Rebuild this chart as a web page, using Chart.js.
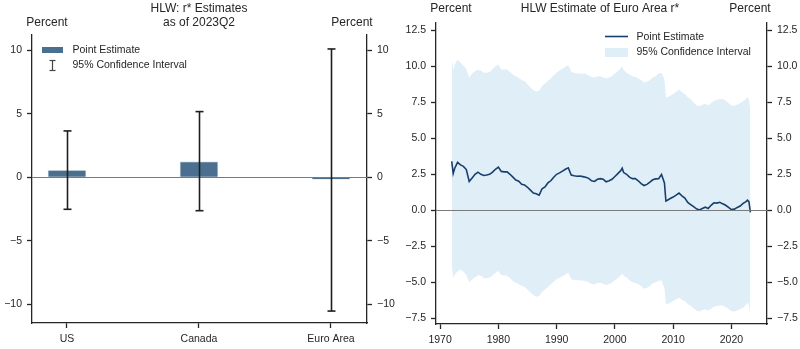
<!DOCTYPE html>
<html>
<head>
<meta charset="utf-8">
<script src="https://cdn.jsdelivr.net/npm/chart.js@4.4.0/dist/chart.umd.min.js"></script>
<style>
body { margin: 0; background: #fff; }
.row { display: flex; width: 800px; height: 349px; }
canvas { display: block; }
</style>
</head>
<body>
<div class="row">
<canvas id="bars" width="400" height="349"></canvas>
<canvas id="euro" width="400" height="349"></canvas>
</div>
<script>
// left panel: HLW r* as of 2023Q2
var countries = ['US', 'Canada', 'Euro Area'];
var pointEst = [0.55, 1.23, -0.16];
var ciLow = [-2.52, -2.63, -10.53];
var ciHigh = [3.65, 5.17, 10.1];
var barTicks = [-10, -5, 0, 5, 10];

// right panel: euro area r* over time
var quarters = [
  1972, 1972.25, 1972.5, 1973, 1973.5, 1974, 1974.5, 1975, 1975.5, 1976, 1976.5, 1977, 1977.5, 1978, 1978.5, 1979, 1979.5,
  1980, 1980.5, 1981, 1981.5, 1982, 1982.5, 1983, 1983.5, 1984, 1984.5, 1985, 1985.5, 1986, 1986.5, 1987, 1987.5, 1988, 1988.5, 1989, 1989.5,
  1990, 1990.5, 1991, 1991.5, 1992, 1992.5, 1993, 1993.5, 1994, 1994.5, 1995, 1995.5, 1996, 1996.5, 1997, 1997.5, 1998, 1998.5, 1999, 1999.5,
  2000, 2000.5, 2001, 2001.25, 2001.5, 2002, 2002.5, 2003, 2003.5, 2004, 2004.5, 2005, 2005.5, 2006, 2006.5, 2007, 2007.5, 2008, 2008.5, 2008.75, 2009, 2009.5,
  2010, 2010.5, 2011, 2011.5, 2012, 2012.5, 2013, 2013.5, 2014, 2014.5, 2015, 2015.5, 2016, 2016.5, 2017, 2017.5, 2018, 2018.5, 2019, 2019.5,
  2020, 2020.5, 2021, 2021.5, 2022, 2022.5, 2022.75, 2023, 2023.25
];
var euroEst = [
  3.40, 2.55, 2.90, 3.33, 3.15, 3.05, 2.83, 2.00, 2.25, 2.50, 2.65, 2.50, 2.42, 2.45, 2.50, 2.65, 2.85,
  3.00, 2.70, 2.67, 2.67, 2.50, 2.30, 2.10, 2.02, 1.80, 1.76, 1.60, 1.40, 1.20, 1.15, 1.05, 1.50, 1.62, 1.90, 2.05, 2.30,
  2.50, 2.60, 2.72, 2.85, 2.95, 2.45, 2.40, 2.36, 2.38, 2.34, 2.30, 2.22, 2.05, 2.00, 2.15, 2.20, 2.15, 1.98, 2.05, 2.15,
  2.35, 2.55, 2.75, 2.92, 2.62, 2.50, 2.30, 2.20, 2.20, 2.05, 1.85, 1.72, 1.80, 1.95, 2.12, 2.18, 2.20, 2.48, 1.90, 0.65, 0.70, 0.82,
  0.92, 1.05, 1.20, 1.00, 0.85, 0.55, 0.40, 0.25, 0.10, 0.03, 0.13, 0.22, 0.12, 0.35, 0.52, 0.50, 0.56, 0.45, 0.35, 0.20,
  0.05, 0.08, 0.20, 0.30, 0.48, 0.60, 0.70, 0.60, -0.15
];
var euroHigh = [
  10.55, 9.70, 10.10, 10.45, 10.25, 10.05, 9.80, 9.20, 9.50, 9.65, 9.75, 9.70, 9.55, 9.55, 9.60, 9.80, 10.00,
  10.12, 9.77, 9.77, 9.77, 9.60, 9.42, 9.30, 9.20, 9.05, 8.98, 8.75, 8.52, 8.35, 8.25, 8.30, 8.62, 8.80, 9.00, 9.15, 9.38,
  9.55, 9.70, 9.82, 9.95, 10.07, 9.61, 9.55, 9.50, 9.49, 9.48, 9.47, 9.35, 9.25, 9.22, 9.28, 9.30, 9.22, 9.15, 9.22, 9.30,
  9.50, 9.65, 9.88, 10.00, 9.75, 9.54, 9.42, 9.30, 9.25, 9.17, 9.02, 8.87, 8.93, 9.02, 9.22, 9.32, 9.50, 9.55, 9.10, 7.85, 7.85, 7.95,
  8.08, 8.22, 8.38, 8.20, 8.08, 7.85, 7.70, 7.50, 7.30, 7.22, 7.32, 7.40, 7.30, 7.45, 7.60, 7.68, 7.72, 7.72, 7.60, 7.45,
  7.28, 7.25, 7.32, 7.45, 7.57, 7.72, 7.85, 7.70, 6.90
];
var euroLow = [
  -3.80, -4.70, -4.45, -4.25, -4.10, -4.25, -4.50, -5.00, -4.80, -4.65, -4.50, -4.55, -4.70, -4.72, -4.67, -4.52, -4.35,
  -4.22, -4.49, -4.50, -4.56, -4.70, -4.90, -5.02, -5.12, -5.25, -5.33, -5.50, -5.70, -5.88, -6.00, -5.95, -5.65, -5.50, -5.32, -5.15, -4.95,
  -4.78, -4.68, -4.58, -4.45, -4.33, -4.79, -4.83, -4.85, -4.86, -4.88, -4.90, -5.00, -5.12, -5.15, -5.05, -5.02, -5.10, -5.18, -5.12, -5.03,
  -4.85, -4.72, -4.50, -4.40, -4.55, -4.67, -4.85, -5.00, -5.05, -5.12, -5.25, -5.45, -5.38, -5.25, -5.08, -5.00, -4.90, -4.86, -5.40, -6.50, -6.50, -6.42,
  -6.30, -6.18, -6.06, -6.20, -6.30, -6.50, -6.62, -6.80, -6.95, -7.03, -6.92, -6.87, -6.95, -6.85, -6.70, -6.64, -6.60, -6.60, -6.72, -6.85,
  -7.00, -7.02, -6.95, -6.85, -6.76, -6.55, -6.42, -6.55, -7.45
];
var euroTicks = [-7.5, -5, -2.5, 0, 2.5, 5, 7.5, 10, 12.5];
var yearTicks = [1970, 1980, 1990, 2000, 2010, 2020];

var FONT = "'Liberation Sans', Arial, sans-serif";
var axisColor = '#262626';
var textColor = '#262626';
var barColor = '#4a6f8f';
var bandColor = '#e0eef8';
var lineColor = '#173f6b';
var zeroColor = '#7a7a7a';
var tickFont = { family: FONT, size: 10.5 };

function minus(s) { return String(s).replace('-', '\u2212'); }

function axis(pos, ticks, lo, hi, size, fmt) {
  var horiz = pos === 'bottom';
  return {
    type: 'linear', position: pos, min: lo, max: hi, offset: false,
    afterBuildTicks: function (s) { s.ticks = ticks.map(function (v) { return { value: v }; }); },
    afterFit: function (s) { if (horiz) s.height = size; else s.width = size; },
    border: { display: true, color: axisColor, width: 1.3 },
    grid: { drawOnChartArea: false, offset: false, tickLength: 5, tickColor: axisColor, tickWidth: 1.3 },
    ticks: { color: textColor, font: tickFont, padding: 5, maxRotation: 0, autoSkip: false, callback: fmt }
  };
}

function hline(ctx, x1, x2, y) { ctx.beginPath(); ctx.moveTo(x1, y); ctx.lineTo(x2, y); ctx.stroke(); }
function vline(ctx, x, y1, y2) { ctx.beginPath(); ctx.moveTo(x, y1); ctx.lineTo(x, y2); ctx.stroke(); }

function text(ctx, s, x, y, size, align) {
  ctx.font = size + 'px ' + FONT;
  ctx.fillStyle = textColor;
  ctx.textAlign = align || 'center';
  ctx.textBaseline = 'alphabetic';
  ctx.fillText(s, x, y);
}

var barDecor = {
  id: 'barDecor',
  afterDatasetsDraw: function (chart) {
    var ctx = chart.ctx, xs = chart.scales.x, ys = chart.scales.y, a = chart.chartArea;
    ctx.save();
    ctx.strokeStyle = zeroColor; ctx.lineWidth = 1;
    hline(ctx, a.left, a.right, Math.round(ys.getPixelForValue(0)) + 0.5);
    ctx.strokeStyle = '#1e1e1e'; ctx.lineWidth = 1.6;
    countries.forEach(function (c, i) {
      var px = Math.round(xs.getPixelForValue(i)) + 0.5;
      var top = ys.getPixelForValue(ciHigh[i]), bot = ys.getPixelForValue(ciLow[i]);
      vline(ctx, px, top, bot);
      hline(ctx, px - 4, px + 4, top);
      hline(ctx, px - 4, px + 4, bot);
    });
    ctx.restore();
  },
  afterDraw: function (chart) {
    var ctx = chart.ctx, a = chart.chartArea;
    ctx.save();
    text(ctx, 'HLW: r* Estimates', 199, 12, 12);
    text(ctx, 'as of 2023Q2', 199, 26, 12);
    text(ctx, 'Percent', a.left + 15, 26, 12);
    text(ctx, 'Percent', a.right - 15, 26, 12);
    // legend
    ctx.fillStyle = barColor;
    ctx.fillRect(42, 47, 21, 6);
    ctx.strokeStyle = '#444'; ctx.lineWidth = 1.2;
    vline(ctx, 52.5, 60.5, 70.5);
    hline(ctx, 49.5, 55.5, 60.5);
    hline(ctx, 49.5, 55.5, 70.5);
    ctx.font = '10.5px ' + FONT; ctx.fillStyle = textColor;
    ctx.textAlign = 'left'; ctx.textBaseline = 'middle';
    ctx.fillText(chart.data.datasets[0].label, 72.5, 50.5);
    ctx.fillText('95% Confidence Interval', 72.5, 65.5);
    ctx.restore();
  }
};

new Chart(document.getElementById('bars'), {
  type: 'bar',
  data: {
    datasets: [{
      label: 'Point Estimate',
      data: countries.map(function (c, i) { return { x: i, y: pointEst[i] }; }),
      backgroundColor: barColor,
      borderColor: '#dfe7ee',
      borderWidth: 0.8,
      barThickness: 38
    }]
  },
  options: {
    responsive: false,
    animation: false,
    devicePixelRatio: 1,
    layout: { padding: { top: 35, left: 0, right: 0, bottom: 0 } },
    plugins: { legend: { display: false }, tooltip: { enabled: false } },
    scales: {
      x: axis('bottom', [0, 1, 2], -0.265, 2.273, 26, function (v) { return countries[v]; }),
      y: axis('left', barTicks, -11.47, 11.2, 32, function (v) { return minus(v); }),
      y2: axis('right', barTicks, -11.47, 11.2, 33, function (v) { return minus(v); })
    }
  },
  plugins: [barDecor]
});

var euroDecor = {
  id: 'euroDecor',
  afterDatasetsDraw: function (chart) {
    var ctx = chart.ctx, ys = chart.scales.y, a = chart.chartArea;
    ctx.save();
    ctx.strokeStyle = zeroColor; ctx.lineWidth = 1;
    hline(ctx, a.left, a.right, Math.round(ys.getPixelForValue(0)) + 0.5);
    ctx.restore();
  },
  afterDraw: function (chart) {
    var ctx = chart.ctx, a = chart.chartArea;
    ctx.save();
    text(ctx, 'HLW Estimate of Euro Area r*', 200, 12, 12);
    text(ctx, 'Percent', a.left + 15, 12, 12);
    text(ctx, 'Percent', a.right - 17, 12, 12);
    // legend
    ctx.strokeStyle = lineColor; ctx.lineWidth = 1.6;
    hline(ctx, 205, 228, 36.5);
    ctx.fillStyle = bandColor;
    ctx.fillRect(205, 48, 23, 9);
    ctx.font = '10.5px ' + FONT; ctx.fillStyle = textColor;
    ctx.textAlign = 'left'; ctx.textBaseline = 'middle';
    ctx.fillText('Point Estimate', 236.5, 37);
    ctx.fillText('95% Confidence Interval', 236.5, 52.5);
    ctx.restore();
  }
};

function series(vals) { return quarters.map(function (q, i) { return { x: q, y: vals[i] }; }); }

new Chart(document.getElementById('euro'), {
  type: 'line',
  data: {
    datasets: [
      // first dataset is drawn last, so the line sits on top of the band
      { label: 'Point Estimate', data: series(euroEst), fill: false, borderColor: lineColor, borderWidth: 1.6, pointRadius: 0, tension: 0 },
      { label: '95% Confidence Interval', data: series(euroHigh), fill: '+1', backgroundColor: bandColor, borderWidth: 0, pointRadius: 0, tension: 0 },
      { label: 'lower', data: series(euroLow), fill: false, borderWidth: 0, pointRadius: 0, tension: 0 }
    ]
  },
  options: {
    responsive: false,
    animation: false,
    devicePixelRatio: 1,
    layout: { padding: { top: 23, left: 0, right: 0, bottom: 0 } },
    plugins: { legend: { display: false }, tooltip: { enabled: false } },
    scales: {
      x: axis('bottom', yearTicks, 1969.3, 2026.1, 25, function (v) { return String(v); }),
      y: axis('left', euroTicks, -7.89, 13.0, 36, function (v) { return minus(v.toFixed(1)); }),
      y2: axis('right', euroTicks, -7.89, 13.0, 33, function (v) { return minus(v.toFixed(1)); })
    }
  },
  plugins: [euroDecor]
});
</script>
</body>
</html>
